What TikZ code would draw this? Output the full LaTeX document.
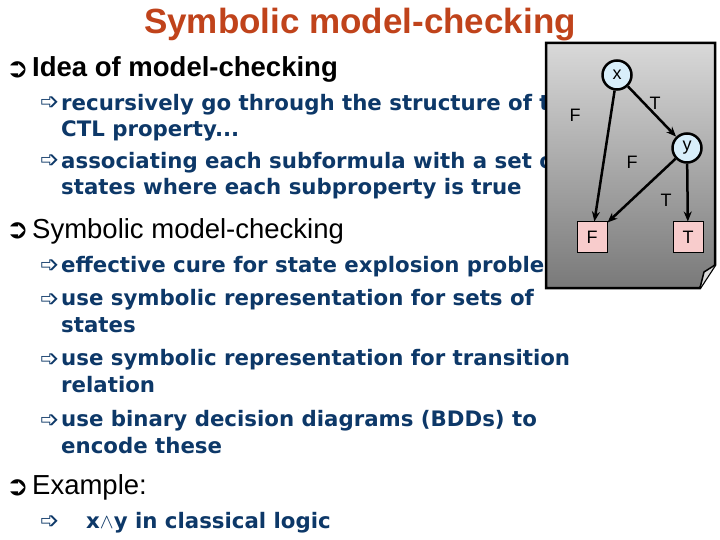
\documentclass[tikz,border=0pt]{standalone}
\usepackage{fontspec}
\setmainfont{Liberation Sans}
\newfontfamily\vfont{DejaVu Sans}
\usetikzlibrary{arrows.meta}
\definecolor{tblue}{HTML}{0D3868}
\definecolor{ttl}{HTML}{C0431B}
\definecolor{nodeblue}{HTML}{D8EEFA}
\definecolor{leafpink}{HTML}{F8CCCC}
\tikzset{
 ttltext/.style={anchor=base,font=\bfseries\fontsize{35}{38}\selectfont,text=ttl,inner sep=0},
 head/.style={anchor=base west,font=\fontsize{27.5}{30}\selectfont,inner sep=0},
 sub/.style={anchor=base west,font=\vfont\bfseries\fontsize{21.3}{26.5}\selectfont,text=tblue,inner sep=0,align=left},
 bul/.style={anchor=base west,font=\vfont\bfseries\fontsize{27}{27}\selectfont,inner sep=0},
 sbul/.style={anchor=base west,font=\vfont\fontsize{23}{23}\selectfont,text=tblue,inner sep=0},
 var/.style={circle,draw,line width=2.5pt,fill=nodeblue,minimum size=29pt,inner sep=0,font=\fontsize{18}{18}\selectfont},
 leaf/.style={draw,line width=1pt,fill=leafpink,minimum size=30pt,inner sep=0,font=\fontsize{18}{18}\selectfont},
 edge/.style={line width=2.5pt,-{Stealth[length=10pt,width=8pt]}},
 lab/.style={font=\fontsize{18}{18}\selectfont,inner sep=0}
}
\begin{document}
\begin{tikzpicture}[x=1pt,y=-1pt]
\useasboundingbox (0,0) rectangle (720,540);
\fill[white] (0,0) rectangle (720,540);
\node[ttltext] (title) at (360,34) {Symbolic model-checking};
\node[bul] (b1) at (6,78) {➲};
\node[head,font=\bfseries\fontsize{27.5}{30}\selectfont] (h1) at (32,77) {Idea of model-checking};
\node[sbul] (s1) at (40,110) {➩};
\node[sub] (t1) at (61,137) {recursively go through the structure of the\\CTL property...};
\node[sbul] (s2) at (40,168) {➩};
\node[sub] (t2) at (61,195) {associating each subformula with a set of\\states where each subproperty is true};
\node[bul] (b2) at (6,239) {➲};
\node[head] (h2) at (32,238) {Symbolic model-checking};
\node[sbul] (s3) at (40,272) {➩};
\node[sub] (t3) at (61,272) {effective cure for state explosion problem};
\node[sbul] (s4) at (40,306) {➩};
\node[sub] (t4) at (61,332) {use symbolic representation for sets of\\states};
\node[sbul] (s5) at (40,366) {➩};
\node[sub] (t5) at (61,392) {use symbolic representation for transition\\relation};
\node[sbul] (s6) at (40,427) {➩};
\node[sub] (t6) at (61,453) {use binary decision diagrams (BDDs) to\\encode these};
\node[bul] (b3) at (6,495) {➲};
\node[head] (h3) at (32,494) {Example:};
\node[sbul] (s7) at (40,528) {➩};
\node[sub] (t7) at (86,528) {x$\land$y in classical logic};
% panel
\shade[top color=gray!30,bottom color=gray!95!black] (546,43) -- (715,43) -- (715,265) -- (700,288) -- (546,288) -- cycle;
\draw[line width=2.5pt] (546,43) -- (715,43) -- (715,265) -- (700,288) -- (546,288) -- cycle;
\fill[gray!30] (700,288) -- (704,272) -- (715,265) -- cycle;
\draw[line width=1.5pt] (700,288) -- (704,272) -- (715,265);
\node[var] (x) at (617,75) {x};
\node[var] (y) at (687,148) {y};
\node[leaf] (F) at (592,237) {F};
\node[leaf] (T) at (688,237) {T};
\draw[edge] (x) -- (F);
\draw[edge] (x) -- (y);
\draw[edge] (y) -- (F);
\draw[edge] (y) -- (T);
\node[lab] (l1) at (575,115) {F};
\node[lab] (l2) at (655,103) {T};
\node[lab] (l3) at (632,162) {F};
\node[lab] (l4) at (666,200) {T};
\end{tikzpicture}
\end{document}
